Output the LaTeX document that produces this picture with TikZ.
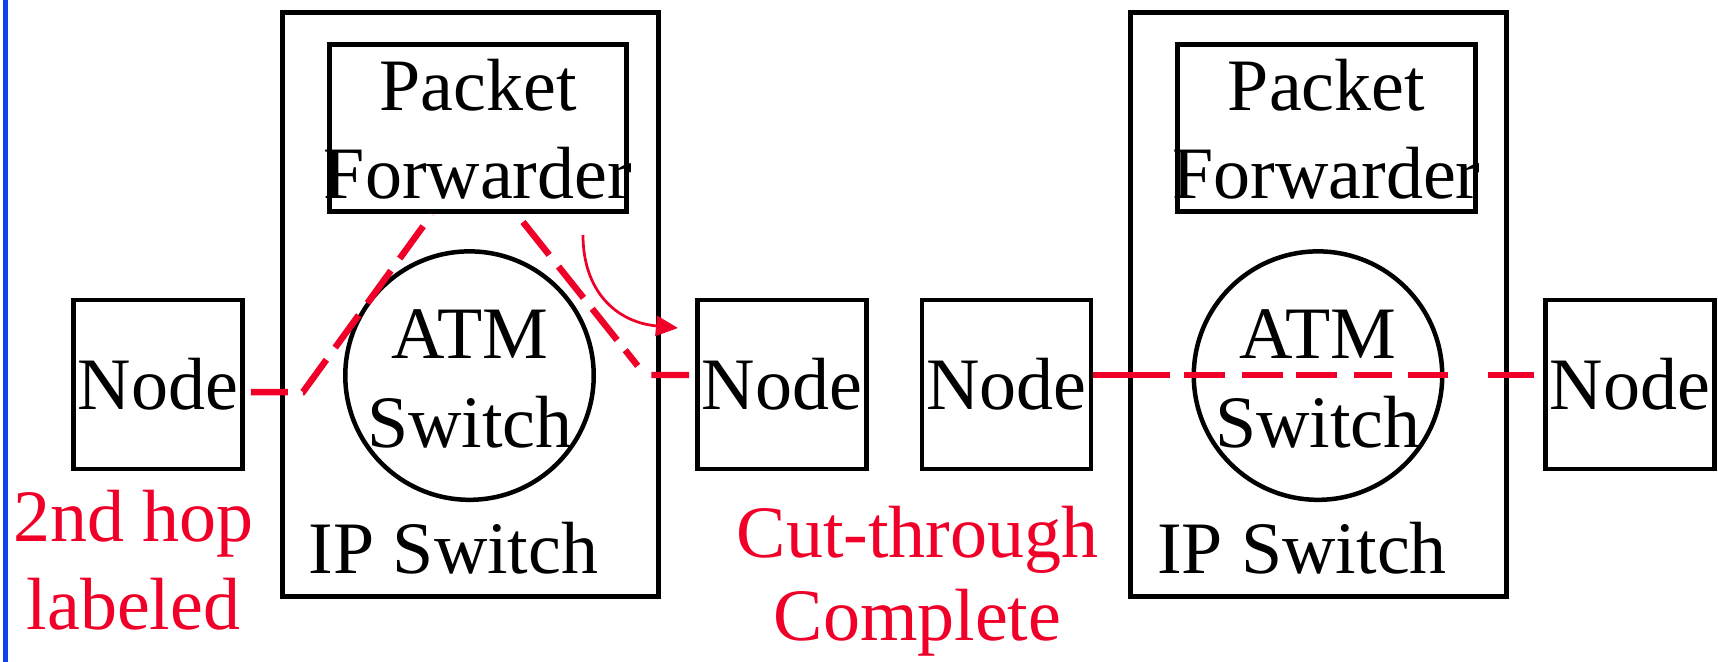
\documentclass[tikz,border=0pt]{standalone}
\usepackage{fontspec}
\setmainfont{Liberation Serif}
\usetikzlibrary{arrows.meta}
\definecolor{hopred}{RGB}{240,0,40}
\definecolor{edgeblue}{RGB}{16,64,240}
\begin{document}
\begin{tikzpicture}[x=0.02cm,y=-0.02cm,
  bigfont/.style={font=\fontsize{42.1}{50.2}\selectfont},
  nodebox/.style={draw,line width=0.095cm,inner sep=0,minimum width=3.38cm,minimum height=3.38cm,bigfont},
  ipbox/.style={draw,line width=0.095cm,inner sep=0,minimum width=7.53cm,minimum height=11.67cm},
  pfbox/.style={draw,line width=0.095cm,inner sep=0,minimum width=5.95cm,minimum height=3.35cm},
  atm/.style={draw,circle,line width=0.09cm,inner sep=0,minimum size=4.97cm},
  txt/.style={inner sep=0,anchor=base,bigfont},
  redtxt/.style={txt,text=hopred},
  hop/.style={draw=hopred,line width=0.13cm,dash pattern=on 0.8cm off 0.3cm},
  arc/.style={draw=hopred,line width=0.055cm,-{Triangle[length=0.44cm,width=0.4cm]}}
]
\fill[white] (0,0) rectangle (1718,662);
\useasboundingbox (0,0) rectangle (1718,662);
\fill[edgeblue] (3,0) rectangle (8,662);

% first IP switch
\node[ipbox] (ip1) at (470.5,304.5) {};
\node[pfbox] (pf1) at (478,128) {};
\node[atm] (atm1) at (469.5,375.6) {};
\node[txt] (pk1) at (478,110.6) {Packet};
\node[txt] (fw1) at (478,199) {Forwarder};
\node[txt] (at1) at (470,358.8) {ATM};
\node[txt] (sw1) at (470,447.5) {Switch};
\node[txt] (ips1) at (453.5,573) {IP Switch};

% second IP switch
\node[ipbox] (ip2) at (1318.5,304.5) {};
\node[pfbox] (pf2) at (1326.5,128) {};
\node[atm] (atm2) at (1318,375.6) {};
\node[txt] (pk2) at (1326.5,110.6) {Packet};
\node[txt] (fw2) at (1326.5,199) {Forwarder};
\node[txt] (at2) at (1318,358.8) {ATM};
\node[txt] (sw2) at (1318,447.5) {Switch};
\node[txt] (ips2) at (1302,573) {IP Switch};

% nodes
\node[nodebox] (n1) at (158,384.5) {Node};
\node[nodebox] (n2) at (782,384.5) {Node};
\node[nodebox] (n3) at (1006.5,384.5) {Node};
\node[nodebox] (n4) at (1630,384.5) {Node};

% labels
\node[redtxt] (l1a) at (133.5,541) {2nd hop};
\node[redtxt] (l1b) at (133.5,629) {labeled};
\node[redtxt] (l2a) at (917.5,557.7) {Cut-through};
\node[redtxt] (l2b) at (917.5,640) {Complete};

% red paths
\coordinate (h1a) at (303,392);
\coordinate (h1b) at (432,214);
\draw[hop,shorten <=0.12cm,dash pattern=on 7.4mm off 3mm on 8mm off 3mm on 8mm off 3mm on 8mm off 3mm on 8mm off 3mm]
  (n1.east |- h1a) -- (h1a) -- (h1b);

\coordinate (h2a) at (523,222);
\coordinate (h2b) at (645,375);
\draw[hop,shorten >=0.12cm,dash pattern=on 8.4mm off 3mm on 8mm off 2.8mm on 8mm off 2.6mm on 4mm off 3.6mm on 7.6mm off 5mm]
  (h2a) -- (h2b) -- (n2.west |- h2b);

\coordinate (h3) at (1100,375);
\draw[hop,shorten >=0.18cm,
  dash pattern=on 15.4mm off 2.8mm on 8.2mm off 3.4mm on 8.2mm off 2.6mm on 8.2mm off 3.4mm on 7.6mm off 3.2mm on 8mm off 8mm on 10.6mm off 5mm]
  (n3.east |- h3) -- (n4.west |- h3);

% arrow
\coordinate (ar0) at (583,235);
\coordinate (ar1) at (678,328);
\draw[arc] (ar0) .. controls (583,290) and (615,322) .. (ar1);
\end{tikzpicture}
\end{document}
